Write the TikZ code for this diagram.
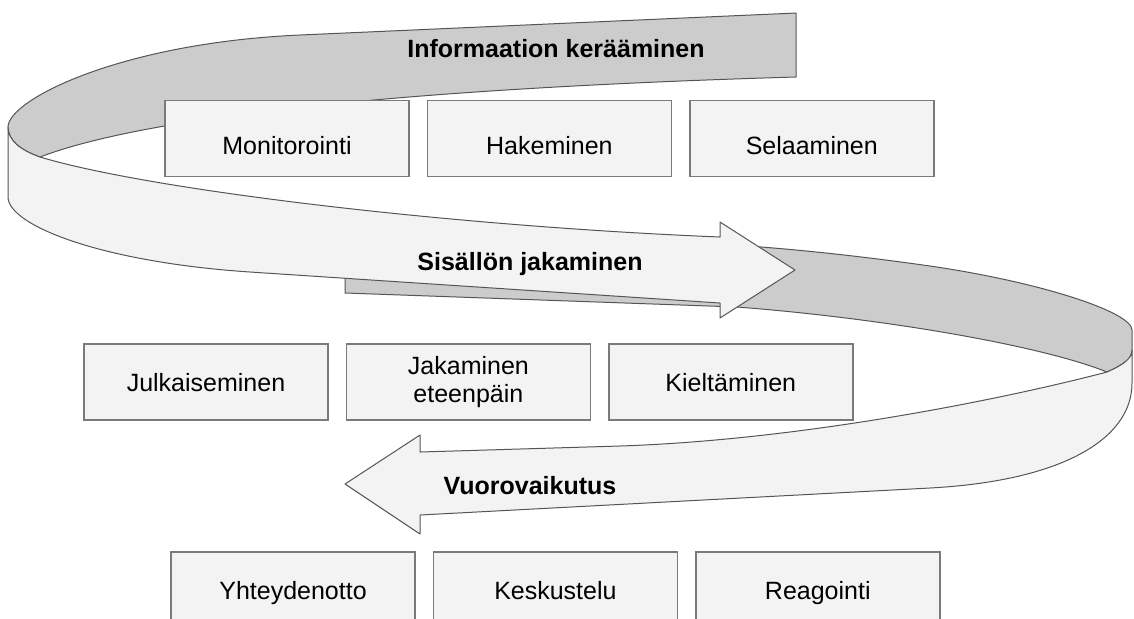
\documentclass[tikz,border=0pt]{standalone}
\usepackage{fontspec}
\setmainfont{Liberation Sans}
\usetikzlibrary{positioning}
\definecolor{bandgray}{HTML}{CCCCCC}
\definecolor{bandlight}{HTML}{F3F3F3}
\definecolor{edgegray}{HTML}{555555}
\definecolor{boxedge}{HTML}{7A7A7A}
\tikzset{
  box/.style={rectangle,draw=boxedge,line width=0.7pt,fill=bandlight,minimum width=122pt,minimum height=38pt,inner sep=2pt,align=center,font=\fontsize{12.5}{14}\selectfont},
  onebox/.style={box,text height=9pt,text depth=0pt},
  topbox/.style={box,text height=15.5pt,text depth=0pt},
  back/.style={draw=edgegray,line width=0.5pt,fill=bandgray,line join=round},
  front/.style={draw=edgegray,line width=0.5pt,fill=bandlight,line join=round},
  lbl/.style={anchor=base,inner sep=0pt,font=\fontsize{12.5}{15}\selectfont\bfseries},
}
\begin{document}
\begin{tikzpicture}[x=0.5pt,y=-0.5pt]
  \useasboundingbox (0,0) rectangle (1134,618);
  \clip (0,0) rectangle (1134,618);
  \draw[back] (796,13) -- (796,77) .. controls (420,88) and (150,115) .. (40,157) .. controls (20,150) and (8,140) .. (8,127) .. controls (8,100) and (120,43) .. (300,35) -- cycle;
  \draw[back] (345,262) -- (345,293) -- (737,307) .. controls (880,318) and (1040,345) .. (1107,372) .. controls (1125,364) and (1132,358) .. (1132,350) -- (1132,330) .. controls (1132,312) and (1040,282) .. (930,266) .. controls (860,256) and (780,247) .. (700,243) -- cycle;
  \draw[front] (8,127) -- (8,197) .. controls (8,225) and (100,262) .. (250,272) -- (720,303) -- (720,318) -- (795,270) -- (720,222) -- (720,237) .. controls (450,226) and (150,190) .. (40,157) .. controls (20,150) and (8,140) .. (8,127) -- cycle;
  \draw[front] (1107,372) .. controls (1125,364) and (1132,358) .. (1132,350) -- (1132,383) .. controls (1132,440) and (1060,481) .. (930,488) -- (420,515) -- (420,534) -- (345,484) -- (420,435) -- (420,452) -- (620,446) .. controls (800,440) and (1000,400) .. (1107,372) -- cycle;
  \node[lbl] (info) at (556,57) {Informaation kerääminen};
  \node[lbl] (jako) at (530,270) {Sisällön jakaminen};
  \node[lbl] (vuoro) at (530,494) {Vuorovaikutus};
  \node[topbox] (mon) at (287,138.5) {Monitorointi};
  \node[topbox,right=8.5pt of mon] (hak) {Hakeminen};
  \node[topbox,right=8.5pt of hak] (sel) {Selaaminen};
  \node[onebox] (julk) at (206,382) {Julkaiseminen};
  \node[box,right=8.5pt of julk] (jak) {Jakaminen\\eteenpäin};
  \node[onebox,right=8.5pt of jak] (kielt) {Kieltäminen};
  \node[onebox] (yht) at (293,590) {Yhteydenotto};
  \node[onebox,right=8.5pt of yht] (kesk) {Keskustelu};
  \node[onebox,right=8.5pt of kesk] (reag) {Reagointi};
\end{tikzpicture}
\end{document}
